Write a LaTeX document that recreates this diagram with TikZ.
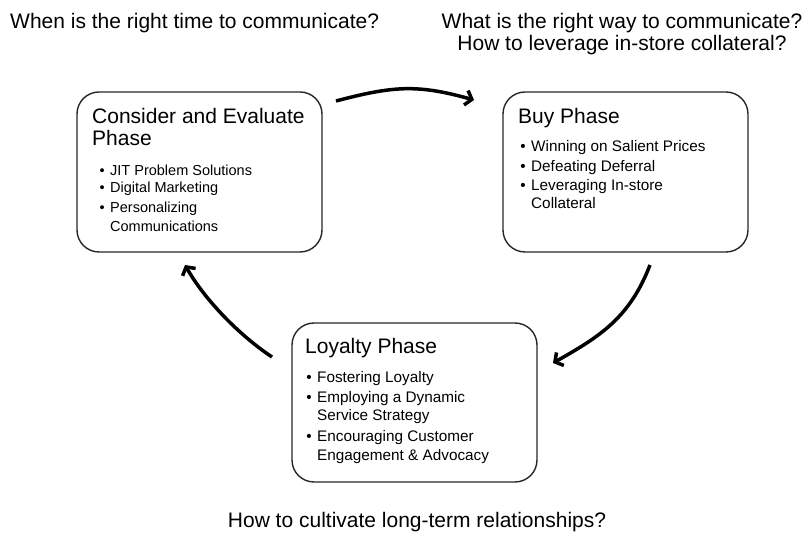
\documentclass[tikz,border=0pt]{standalone}
\usepackage{fontspec}
\setmainfont{Liberation Sans}
\usetikzlibrary{arrows.meta}
\newcommand\bul{\llap{\textbullet\hspace{5.5pt}}}
\begin{document}
\begin{tikzpicture}[x=1pt,y=-1pt,
  phase/.style={draw=black!85, line width=1.4pt, rounded corners=22pt, minimum width=245pt, minimum height=160pt, inner sep=0pt},
  ttl/.style={anchor=base west, inner sep=0pt, font=\fontsize{21}{25}\selectfont},
  q/.style={anchor=base, inner sep=0pt, font=\fontsize{21}{25}\selectfont},
  bl/.style={anchor=base west, inner sep=0pt, font=\fontsize{15.3}{18}\selectfont},
  bls/.style={bl, font=\fontsize{14.5}{18}\selectfont},
  cyc/.style={line width=3.5pt, -{Straight Barb[length=6pt,width=15pt]}}
]
\useasboundingbox (0,0) rectangle (807,534);

% questions
\node[anchor=base west, inner sep=0pt, font=\fontsize{21}{25}\selectfont] (q1) at (10,29) {When is the right time to communicate?};
\node[q] (q2) at (622,29) {What is the right way to communicate?};
\node[q] (q3) at (622,51) {How to leverage in-store collateral?};
\node[q] (q4) at (417,528) {How to cultivate long-term relationships?};

% consider and evaluate
\node[phase] (ce) at (199.5,172) {};
\node[ttl] (ce1) at (92,124) {Consider and Evaluate};
\node[ttl] (ce2) at (92,146) {Phase};
\node[bls] (ce3) at (110,176) {\bul JIT Problem Solutions};
\node[bls] (ce4) at (110,193) {\bul Digital Marketing};
\node[bls] (ce5) at (110,213) {\bul Personalizing};
\node[bls] (ce6) at (110,232) {Communications};

% buy
\node[phase] (buy) at (625.5,172) {};
\node[ttl] (buy1) at (518,124) {Buy Phase};
\node[bl] (buy2) at (531,152) {\bul Winning on Salient Prices};
\node[bl] (buy3) at (531,172) {\bul Defeating Deferral};
\node[bl] (buy4) at (531,191) {\bul Leveraging In-store};
\node[bl] (buy5) at (531,209) {Collateral};

% loyalty
\node[phase, minimum height=159pt] (loy) at (414.5,402.5) {};
\node[ttl] (loy1) at (305,354) {Loyalty Phase};
\node[bl] (loy2) at (317,383) {\bul Fostering Loyalty};
\node[bl] (loy3) at (317,403) {\bul Employing a Dynamic};
\node[bl] (loy4) at (317,421) {Service Strategy};
\node[bl] (loy5) at (317,442) {\bul Encouraging Customer};
\node[bl] (loy6) at (317,461) {Engagement \& Advocacy};

% cycle arrows
\coordinate (t0) at (336,101);
\coordinate (t1) at (474,100);
\coordinate (r0) at (650,265);
\coordinate (r1) at (553,363);
\coordinate (l0) at (272,357);
\coordinate (l1) at (185,265);
\draw[cyc] (t0) .. controls (393,86) and (417,84) .. (t1);
\draw[cyc] (r0) .. controls (630,317) and (601,336) .. (r1);
\draw[cyc] (l0) .. controls (239,335) and (205,300) .. (l1);
\end{tikzpicture}
\end{document}
